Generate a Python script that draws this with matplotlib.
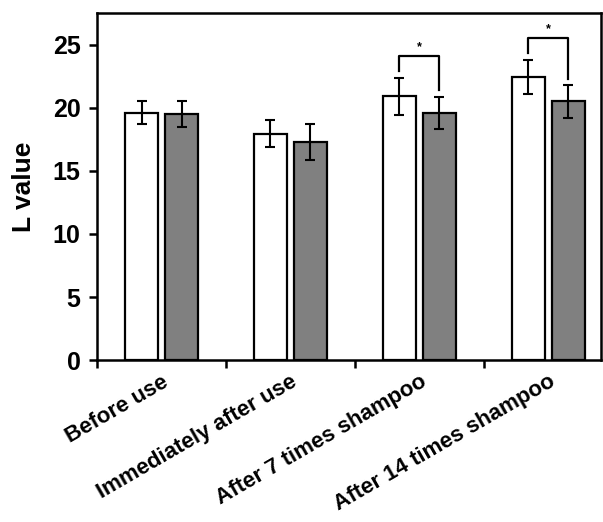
import matplotlib.pyplot as plt
import numpy as np

plt.rcParams['font.family'] = ['Liberation Sans', 'DejaVu Sans']
plt.rcParams['font.weight'] = 'bold'

categories = ['Before use', 'Immediately after use',
              'After 7 times shampoo', 'After 14 times shampoo']
white_vals = [19.6, 17.95, 20.9, 22.4]
white_err = [0.9, 1.05, 1.45, 1.35]
gray_vals = [19.5, 17.3, 19.6, 20.5]
gray_err = [1.05, 1.45, 1.25, 1.3]

# significance brackets: (group, top, left leg end, right leg end)
brackets = [(2, 24.1, 22.9, 21.4), (3, 25.5, 24.3, 22.3)]

fig = plt.figure(figsize=(6.03, 5.22), dpi=100)
ax = fig.add_axes([0.161, 0.31, 0.836, 0.665])

centers = np.arange(len(categories)) + 0.5
off = 0.155
w = 0.26
ekw = dict(elinewidth=1.5, capthick=1.5, capsize=3.5, ecolor='black')
ax.bar(centers - off, white_vals, w, yerr=white_err, color='white',
       edgecolor='black', linewidth=1.6, error_kw=ekw)
ax.bar(centers + off, gray_vals, w, yerr=gray_err, color='#808080',
       edgecolor='black', linewidth=1.6, error_kw=ekw)

for g, top, l_end, r_end in brackets:
    xl = centers[g] - off
    xr = centers[g] + off
    ax.plot([xl, xl, xr, xr], [l_end, top, top, r_end], color='black', lw=1.6)
    ax.text(centers[g], top + 0.25, '*', ha='center', va='bottom', fontsize=9)

ax.set_xlim(0, 3.91)
ax.set_ylim(0, 27.5)
ax.set_yticks([0, 5, 10, 15, 20, 25])
ax.set_xticks(np.arange(len(categories)))
ax.set_xticklabels([])
ax.set_xticks(centers, minor=True)
ax.set_xticklabels(categories, minor=True, rotation=30, ha='right',
                   rotation_mode='anchor', fontsize=16)
ax.tick_params(axis='x', which='minor', length=0, pad=8)
ax.tick_params(axis='x', which='major', direction='out', length=6, width=1.8)
ax.tick_params(axis='y', direction='out', length=6, width=1.8, labelsize=18, pad=6)
for s in ax.spines.values():
    s.set_linewidth(1.8)

ax.set_ylabel('L value', fontsize=19, fontweight='bold', labelpad=12)

fig.savefig('out.png', dpi=100)
